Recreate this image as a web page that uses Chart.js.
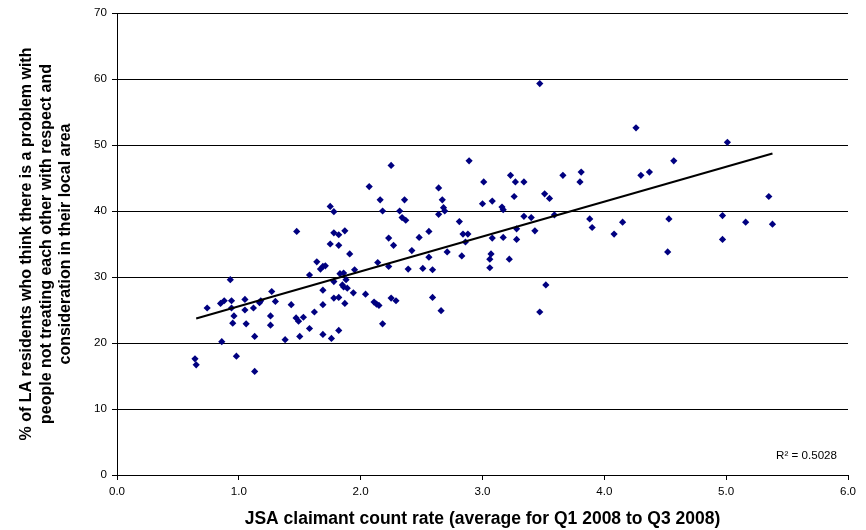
<!DOCTYPE html>
<html>
<head>
<meta charset="utf-8">
<script src="https://cdn.jsdelivr.net/npm/chart.js@4/dist/chart.umd.min.js"></script>
<style>
html,body{margin:0;padding:0;background:#fff;}
#wrap{width:866px;height:530px;position:relative;}
</style>
</head>
<body>
<div id="wrap"><canvas id="c" width="866" height="530"></canvas></div>
<script>
// JSA claimant count rate (x) for each local authority
const jsaRate = [
  0.64,0.65,0.74,0.85,0.88,0.93,0.94,0.94,0.96,0.95,0.86,0.98,1.05,1.05,1.06,1.12,1.13,1.13,1.17,1.18,
  1.27,1.30,1.26,1.26,1.38,1.43,1.47,1.49,1.53,1.50,1.58,1.58,1.62,1.64,1.67,1.69,1.71,1.69,1.69,1.69,
  1.75,1.76,1.78,1.78,1.82,1.82,1.82,1.83,1.85,1.86,1.87,1.88,1.89,1.86,1.91,1.94,1.95,2.04,2.11,2.13,
  2.15,2.14,2.18,2.23,2.25,2.29,2.27,2.23,2.39,2.42,2.51,2.56,2.59,2.59,2.66,2.71,2.83,2.86,3.06,3.06,
  3.07,1.475,1.75,1.78,1.78,1.82,1.87,2.07,2.16,2.18,2.25,2.32,2.36,2.34,2.37,2.48,2.56,2.64,2.67,2.68,
  2.69,2.64,2.81,2.84,2.88,2.89,3.01,3.00,3.47,3.08,3.23,3.27,3.34,3.26,3.16,3.17,3.34,3.40,3.28,3.43,
  3.08,3.17,3.28,3.66,3.51,3.55,3.59,3.81,3.80,3.88,3.90,4.08,4.15,4.26,4.30,4.37,4.57,4.53,4.97,4.97,
  5.01,5.16,5.35,5.38,4.52,3.22,3.52,3.47
];
// % of residents who think there is a problem (y)
const pctProblem = [
  17.6,16.7,25.3,26.0,26.4,29.6,26.4,25.3,24.1,23.0,20.2,18.0,26.6,25.0,22.9,25.3,21.0,15.7,26.1,26.4,
  27.8,26.3,24.1,22.7,20.5,25.8,23.8,23.3,23.9,21.0,22.2,30.3,24.7,32.3,31.2,31.6,31.7,28.0,25.8,21.3,
  35.0,20.7,29.3,26.8,26.9,21.9,34.8,30.5,28.8,30.6,26.0,29.6,28.3,28.5,33.5,27.6,31.1,27.4,26.2,25.9,
  25.7,32.2,22.9,31.6,26.8,26.4,34.8,35.9,31.2,34.0,31.3,33.0,31.1,26.9,24.9,33.8,33.2,35.3,31.4,32.7,
  33.5,36.9,40.7,39.9,36.7,36.4,37.0,43.7,41.7,40.0,46.9,40.0,41.7,39.0,38.6,36.0,36.9,43.5,41.7,40.5,
  40.0,39.5,38.4,36.5,36.5,47.6,44.4,41.1,59.3,41.5,45.4,44.4,44.4,42.2,40.6,40.2,39.2,39.0,37.3,37.0,
  35.9,36.0,35.7,45.4,42.6,41.9,39.4,45.9,44.4,38.8,37.5,36.5,38.3,52.6,45.4,45.9,47.6,38.8,39.3,35.7,
  50.4,38.3,42.2,38.0,33.8,32.7,28.8,24.7
];
// Linear trend line end points
const trendX = [0.65, 5.38];
const trendY = [23.7, 48.7];
const xTicks = [0,1,2,3,4,5,6];
const yTicks = [0,10,20,30,40,50,60,70];
const rSquaredText = 'R\u00B2 = 0.5028';
const xTitle = 'JSA claimant count rate (average for Q1 2008 to Q3 2008)';
const yTitle = ['% of LA residents who think there is a problem with',
                'people not treating each other with respect and',
                'consideration in their local area'];

const FONT = "'Liberation Sans', Arial, sans-serif";
const points = jsaRate.map((x,i)=>({x:x,y:pctProblem[i]}));
const trend = trendX.map((x,i)=>({x:x,y:trendY[i]}));

const r2Plugin = {
  id:'r2',
  afterDraw(chart){
    const {ctx, chartArea} = chart;
    ctx.save();
    ctx.font = "11.6px " + FONT;
    ctx.fillStyle = '#000';
    ctx.textAlign = 'right';
    ctx.textBaseline = 'middle';
    ctx.fillText(rSquaredText, chartArea.right - 11, 456);
    ctx.restore();
  }
};

new Chart(document.getElementById('c'), {
  type:'scatter',
  data:{
    datasets:[
      {
        data: points,
        pointStyle:'rectRot',
        pointRadius:3.6,
        pointHoverRadius:3.6,
        backgroundColor:'#000080',
        borderColor:'#000080',
        borderWidth:0,
        order:2
      },
      {
        type:'line',
        data: trend,
        borderColor:'#000',
        borderWidth:2,
        pointRadius:0,
        fill:false,
        order:1
      }
    ]
  },
  options:{
    responsive:false,
    animation:false,
    events:[],
    layout:{padding:{left:0,right:18,top:13,bottom:0}},
    plugins:{legend:{display:false},tooltip:{enabled:false}},
    scales:{
      x:{
        type:'linear',
        min:0,max:6,
        afterBuildTicks(scale){ scale.ticks = xTicks.map(v=>({value:v})); },
        afterFit(scale){ scale.height = 55; },
        ticks:{
          callback:(v)=>Number(v).toFixed(1),
          color:'#000',
          font:{family:FONT,size:11.6},
          padding:5,
          maxRotation:0,
          autoSkip:false
        },
        grid:{drawOnChartArea:false,drawTicks:true,tickLength:5,color:'#000'},
        border:{color:'#000',width:1},
        title:{
          display:true,
          text:xTitle,
          color:'#000',
          font:{family:FONT,size:17.5,weight:'bold'},
          padding:{top:0,bottom:0}
        }
      },
      y:{
        type:'linear',
        min:0,max:70,
        afterBuildTicks(scale){ scale.ticks = yTicks.map(v=>({value:v})); },
        afterFit(scale){ scale.width = 117; },
        ticks:{
          callback:(v)=>String(v),
          color:'#000',
          font:{family:FONT,size:11.6},
          padding:5,
          autoSkip:false
        },
        grid:{color:'#000',lineWidth:1,drawTicks:true,tickLength:5},
        border:{color:'#000',width:1},
        title:{
          display:true,
          text:yTitle,
          color:'#000',
          font:{family:FONT,size:16,weight:'bold',lineHeight:1.22},
          padding:{top:17,bottom:0}
        }
      }
    }
  },
  plugins:[r2Plugin]
});
</script>
</body>
</html>
